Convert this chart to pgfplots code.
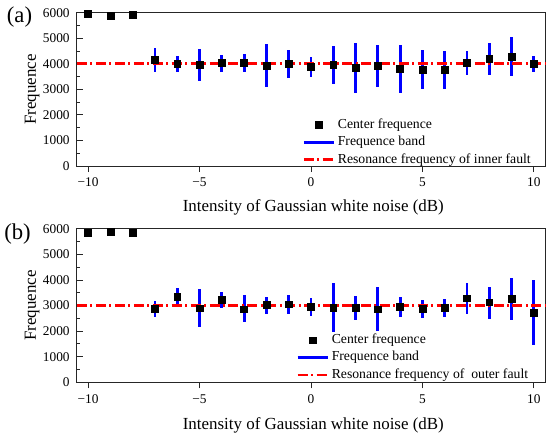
\documentclass[border=0pt]{standalone}
\usepackage{pgfplots}
\pgfplotsset{compat=1.18}
\usepackage{pgfplotstable}
\usepackage{fontspec}
\setmainfont{Liberation Serif}
\definecolor{myblue}{RGB}{0,0,255}
\definecolor{myred}{RGB}{255,0,0}

\pgfplotstableread{
x y
-10 5950
-9 5880
-8 5935
-7 4145
-6 3990
-5 3960
-4 4025
-3 4040
-2 3935
-1 3990
0 3880
1 3960
2 3845
3 3920
4 3805
5 3780
6 3780
7 4025
8 4195
9 4260
10 3990
}\centerA

\pgfplotstableread{
x y lo hi
-7 4145 3660 4630
-6 3990 3660 4300
-5 3960 3330 4590
-4 4025 3670 4350
-3 4040 3660 4400
-2 3935 3085 4780
-1 3990 3440 4550
0 3880 3500 4275
1 3960 3220 4705
2 3845 2875 4800
3 3920 3110 4745
4 3805 2850 4745
5 3780 3020 4525
6 3780 3030 4510
7 4025 3570 4485
8 4195 3580 4800
9 4260 3505 5045
10 3990 3675 4290
}\bandA

\pgfplotstableread{
x y
-10 5857
-9 5896
-8 5844
-7 2883
-6 3364
-5 2896
-4 3220
-3 2857
-2 3026
-1 3052
0 2965
1 2910
2 2910
3 2857
4 2948
5 2870
6 2922
7 3286
8 3130
9 3260
10 2727
}\centerB

\pgfplotstableread{
x y lo hi
-7 2883 2560 3195
-6 3364 3000 3700
-5 2896 2155 3650
-4 3220 2896 3520
-3 2857 2350 3400
-2 3026 2690 3350
-1 3052 2690 3430
0 2965 2605 3300
1 2910 1975 3900
2 2910 2440 3375
3 2857 2000 3730
4 2948 2545 3325
5 2870 2520 3210
6 2922 2570 3260
7 3286 2660 3880
8 3130 2480 3715
9 3260 2440 4065
10 2727 1455 3990
}\bandB

\pgfplotsset{
  myaxis/.style={
    scale only axis,
    width=351pt, height=115pt,
    anchor=south west,
    xmin=-10.5, xmax=10.5,
    ymin=0, ymax=6000,
    clip=false,
    axis line style={line width=0.75pt, black!85},
    xtick={-10,-5,0,5,10},
    xticklabels={−10,−5,0,5,10},
    ytick={0,1000,...,6000},
    minor y tick num=1,
    tick pos=left,
    xtick align=outside,
    ytick align=inside,
    major tick length=4.5pt,
    minor tick length=2.5pt,
    tick style={line width=0.75pt, black!85},
    /pgf/number format/assume math mode=true,
    /pgf/number format/1000 sep={},
    ticklabel style={font=\fontsize{10}{12}\selectfont},
    yticklabel style={xshift=-2pt},
    xticklabel style={yshift=-1pt},
    every axis y label/.style={at={(axis description cs:-0.096,0.5)},rotate=90,anchor=center},
    label style={font=\fontsize{12.7}{15}\selectfont},
    legend style={draw=none, fill=none, font=\fontsize{10.3}{12}\selectfont,
      inner sep=0pt, row sep=0pt, column sep=0pt,
      nodes={inner xsep=1.5pt, inner ysep=1.5pt, text height=7.5pt, text depth=2.5pt}},
    legend cell align=left,
  },
  bandstyle/.style={only marks, mark=none, forget plot,
    error bars/.cd, y dir=both, y explicit, error mark=none,
    error bar style={draw=myblue, line width=2.2pt}},
  censtyle/.style={only marks, mark=square*, mark size=2.6pt, black, forget plot},
  resstyle/.style={myred, line width=2.2pt, dash pattern=on 7.5pt off 2.6pt on 1.5pt off 2.6pt, forget plot},
  legcenter/.style={legend image code/.code={\path[draw=none,fill=none] (0pt,0pt) -- (23pt,0pt); \fill[black] (8.9pt,-2.6pt) rectangle (14.1pt,2.6pt);}},
  legband/.style={legend image code/.code={\draw[myblue,line width=1.9pt] (0pt,0pt) -- (23pt,0pt);}},
  legres/.style={legend image code/.code={\draw[myred,line width=2.1pt,dash pattern=on 7.5pt off 2.6pt on 1.5pt off 2.6pt] (0pt,0pt) -- (23pt,0pt);}},
}

\begin{document}
\begin{tikzpicture}
\path (0,0) rectangle (412.5pt,-329.25pt);

\begin{axis}[myaxis, at={(57.75pt,-124.5pt)},
  xlabel={Intensity of Gaussian white noise (dB)},
  ylabel={Frequence},
  xlabel style={at={(axis description cs:0.505,-0.268)},anchor=center},
  legend style={at={(0.481,0.325)},anchor=north west}]
\addplot[bandstyle] table[x=x,y=y,y error plus expr=\thisrow{hi}-\thisrow{y},y error minus expr=\thisrow{y}-\thisrow{lo}] {\bandA};
\addplot[resstyle] coordinates {(-10.5,4000) (10.5,4000)};
\addplot[censtyle] table[x=x,y=y] {\centerA};
\addlegendimage{legcenter}
\addlegendentry{Center frequence}
\addlegendimage{legband}
\addlegendentry{Frequence band}
\addlegendimage{legres}
\addlegendentry{Resonance frequency of inner fault}
\end{axis}

\begin{axis}[myaxis, at={(57.75pt,-286.7pt)},
  xlabel={Intensity of Gaussian white noise (dB)},
  ylabel={Frequence},
  xlabel style={at={(axis description cs:0.505,-0.284)},anchor=center},
  legend style={at={(0.468,0.332)},anchor=north west}]
\addplot[bandstyle] table[x=x,y=y,y error plus expr=\thisrow{hi}-\thisrow{y},y error minus expr=\thisrow{y}-\thisrow{lo}] {\bandB};
\addplot[resstyle] coordinates {(-10.5,3000) (10.5,3000)};
\addplot[censtyle] table[x=x,y=y] {\centerB};
\addlegendimage{legcenter}
\addlegendentry{Center frequence}
\addlegendimage{legband}
\addlegendentry{Frequence band}
\addlegendimage{legres}
\addlegendentry{Resonance frequency of~ outer fault}
\end{axis}

\node[anchor=west, font=\fontsize{17}{20}\selectfont, inner sep=0pt] at (5pt,-12.75pt) {(a)};
\node[anchor=west, font=\fontsize{17}{20}\selectfont, inner sep=0pt] at (3pt,-175.5pt) {(b)};
\end{tikzpicture}
\end{document}
